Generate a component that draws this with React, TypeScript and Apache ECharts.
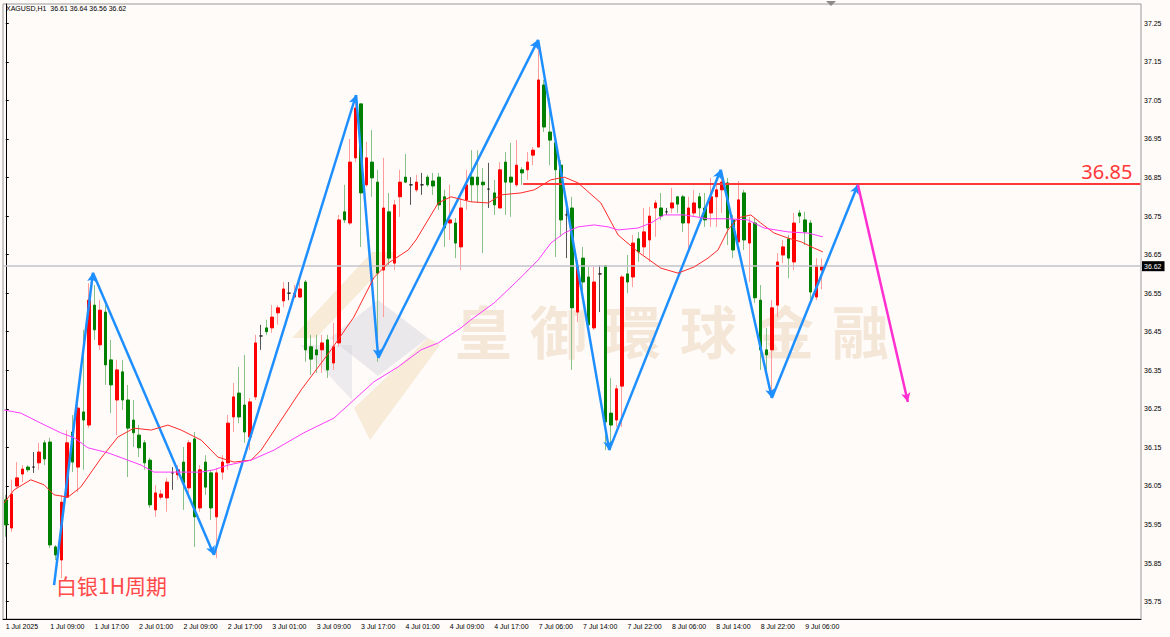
import React, { useEffect, useRef } from "react";
import * as echarts from "echarts";

// ---- data (XAGUSD H1) ----
const xTickLabels = [
  "1 Jul 2025", "1 Jul 09:00", "1 Jul 17:00", "2 Jul 01:00", "2 Jul 09:00", "2 Jul 17:00",
  "3 Jul 01:00", "3 Jul 09:00", "3 Jul 17:00", "4 Jul 01:00", "4 Jul 09:00", "4 Jul 17:00",
  "7 Jul 06:00", "7 Jul 14:00", "7 Jul 22:00", "8 Jul 06:00", "8 Jul 14:00", "8 Jul 22:00", "9 Jul 06:00",
];
const yTickValues = [35.75, 35.85, 35.95, 36.05, 36.15, 36.25, 36.35, 36.45, 36.55, 36.65, 36.75, 36.85, 36.95, 37.05, 37.15, 37.25];

const opens = [
  36.014, 35.941, 36.05, 36.081, 36.099, 36.099, 36.11, 36.162, 36.164, 35.892,
  35.858, 36.021, 36.19, 36.099, 36.242, 36.208, 36.519, 36.416, 36.501, 36.377,
  36.273, 36.346, 36.273, 36.221, 36.182, 36.162, 36.117, 35.988, 36.021, 36.019,
  36.084, 36.079, 36.112, 36.045, 36.172, 35.993, 36.112, 36.084, 35.97, 36.086,
  36.11, 36.229, 36.291, 36.26, 36.177, 36.281, 36.439, 36.46, 36.46, 36.499,
  36.53, 36.55, 36.54, 36.54, 36.579, 36.411, 36.403, 36.403, 36.429, 36.369,
  36.421, 36.761, 36.732, 36.901, 37.041, 36.831, 36.89, 36.838, 36.61, 36.761,
  36.628, 36.8, 36.851, 36.831, 36.818, 36.831, 36.851, 36.841, 36.851, 36.8,
  36.732, 36.732, 36.67, 36.792, 36.851, 36.851, 36.838, 36.82, 36.81, 36.771,
  36.89, 36.851, 36.831, 36.87, 36.87, 36.908, 36.929, 37.09, 36.968, 36.94,
  36.882, 36.753, 36.771, 36.501, 36.641, 36.592, 36.46, 36.6, 36.621, 36.239,
  36.221, 36.309, 36.6, 36.592, 36.691, 36.67, 36.688, 36.771, 36.771, 36.761,
  36.771, 36.8, 36.8, 36.732, 36.758, 36.8, 36.771, 36.758, 36.8, 36.818,
  36.836, 36.74, 36.683, 36.81, 36.68, 36.732, 36.532, 36.403, 36.403, 36.519,
  36.649, 36.691, 36.631, 36.758, 36.74, 36.732, 36.54, 36.61,
];
const closes = [
  35.949, 36.029, 36.071, 36.094, 36.092, 36.099, 36.138, 36.12, 35.897, 35.871,
  36.008, 36.162, 36.112, 36.252, 36.221, 36.532, 36.455, 36.506, 36.364, 36.312,
  36.351, 36.273, 36.2, 36.188, 36.149, 36.11, 36.001, 36.032, 36.029, 36.06,
  36.084, 36.092, 36.058, 36.162, 35.97, 36.092, 36.047, 35.993, 36.084, 36.112,
  36.213, 36.281, 36.229, 36.19, 36.268, 36.421, 36.439, 36.45, 36.488, 36.512,
  36.561, 36.55, 36.55, 36.561, 36.403, 36.379, 36.39, 36.421, 36.351, 36.411,
  36.74, 36.74, 36.89, 37.03, 36.81, 36.901, 36.849, 36.602, 36.771, 36.641,
  36.779, 36.838, 36.838, 36.831, 36.838, 36.831, 36.831, 36.828, 36.779, 36.719,
  36.74, 36.68, 36.771, 36.831, 36.831, 36.831, 36.831, 36.82, 36.779, 36.87,
  36.838, 36.838, 36.882, 36.862, 36.89, 36.921, 37.103, 36.981, 36.947, 36.87,
  36.74, 36.753, 36.512, 36.621, 36.579, 36.468, 36.579, 36.6, 36.216, 36.208,
  36.302, 36.592, 36.579, 36.68, 36.657, 36.709, 36.75, 36.784, 36.75, 36.761,
  36.784, 36.781, 36.732, 36.771, 36.784, 36.771, 36.74, 36.8, 36.818, 36.838,
  36.719, 36.662, 36.792, 36.688, 36.732, 36.538, 36.403, 36.39, 36.512, 36.631,
  36.67, 36.641, 36.732, 36.75, 36.709, 36.553, 36.621, 36.62,
];
const highs = [
  36.027, 36.066, 36.112, 36.104, 36.104, 36.138, 36.162, 36.169, 36.175, 35.897,
  36.027, 36.195, 36.234, 36.286, 36.455, 36.576, 36.571, 36.532, 36.519, 36.429,
  36.377, 36.377, 36.312, 36.273, 36.208, 36.169, 36.123, 36.052, 36.04, 36.071,
  36.099, 36.104, 36.151, 36.169, 36.19, 36.104, 36.13, 36.092, 36.097, 36.13,
  36.234, 36.317, 36.359, 36.39, 36.278, 36.442, 36.468, 36.481, 36.519, 36.519,
  36.579, 36.579, 36.571, 36.579, 36.584, 36.442, 36.442, 36.442, 36.442, 36.473,
  36.753, 36.831, 36.95, 37.06, 37.041, 36.942, 36.973, 36.87, 36.901, 36.81,
  36.792, 36.87, 36.911, 36.851, 36.857, 36.862, 36.857, 36.862, 36.862, 36.818,
  36.831, 36.745, 36.797, 36.87, 36.921, 36.921, 36.875, 36.888, 36.844, 36.89,
  36.916, 36.94, 36.947, 36.877, 36.916, 36.929, 37.207, 37.103, 37.056, 36.947,
  36.895, 36.771, 36.8, 36.636, 36.67, 36.618, 36.618, 36.623, 36.623, 36.33,
  36.312, 36.597, 36.649, 36.701, 36.709, 36.771, 36.774, 36.792, 36.81, 36.771,
  36.823, 36.8, 36.805, 36.8, 36.818, 36.81, 36.81, 36.849, 36.849, 36.87,
  36.849, 36.753, 36.841, 36.818, 36.748, 36.745, 36.571, 36.46, 36.532, 36.654,
  36.688, 36.701, 36.758, 36.766, 36.761, 36.74, 36.641, 36.64,
];
const lows = [
  35.918, 35.931, 36.045, 36.06, 36.086, 36.084, 36.092, 36.104, 35.889, 35.858,
  35.811, 36.019, 36.086, 36.034, 36.092, 36.2, 36.429, 36.403, 36.312, 36.239,
  36.182, 36.247, 36.073, 36.151, 36.125, 36.092, 35.993, 35.97, 36.014, 35.983,
  36.04, 36.066, 35.988, 36.027, 35.892, 35.983, 36.027, 35.962, 35.863, 36.066,
  36.092, 36.19, 36.213, 36.162, 36.143, 36.273, 36.403, 36.442, 36.447, 36.468,
  36.514, 36.532, 36.538, 36.538, 36.372, 36.338, 36.343, 36.343, 36.33, 36.351,
  36.411, 36.732, 36.727, 36.89, 36.67, 36.826, 36.8, 36.372, 36.488, 36.623,
  36.61, 36.748, 36.836, 36.779, 36.812, 36.805, 36.826, 36.805, 36.766, 36.67,
  36.688, 36.641, 36.61, 36.766, 36.787, 36.784, 36.654, 36.771, 36.753, 36.771,
  36.753, 36.748, 36.826, 36.831, 36.844, 36.882, 36.929, 36.968, 36.882, 36.644,
  36.696, 36.641, 36.351, 36.475, 36.532, 36.455, 36.455, 36.501, 36.143, 36.143,
  36.203, 36.203, 36.55, 36.566, 36.631, 36.649, 36.631, 36.696, 36.74, 36.753,
  36.758, 36.758, 36.709, 36.654, 36.748, 36.745, 36.722, 36.722, 36.722, 36.758,
  36.675, 36.641, 36.68, 36.662, 36.579, 36.525, 36.351, 36.343, 36.278, 36.488,
  36.628, 36.589, 36.61, 36.732, 36.675, 36.532, 36.532, 36.56,
];

// moving averages: [bar index, price]
const maFast = [
  [-0.3, 36.006], [1.5, 36.04], [4.5, 36.066], [6.9, 36.053], [8.7, 36.027], [11.2, 36.021],
  [13.5, 36.047], [17.2, 36.123], [20.2, 36.177], [23.1, 36.2], [26.2, 36.195], [29.2, 36.208],
  [31.6, 36.195], [35.2, 36.169], [38.2, 36.125], [41.1, 36.112], [44.2, 36.117], [46.0, 36.143],
  [53.2, 36.299], [58.6, 36.403], [62.7, 36.488], [66.3, 36.59], [68.9, 36.628], [72.5, 36.662],
  [73.9, 36.688], [77.9, 36.784], [80.2, 36.8], [83.8, 36.787], [86.9, 36.784], [89.2, 36.805],
  [92.8, 36.81], [95.2, 36.818], [98.2, 36.844], [100.6, 36.851], [103.1, 36.836], [107.2, 36.784],
  [110.3, 36.701], [113.9, 36.657], [118.0, 36.615], [121.1, 36.602], [124.0, 36.618], [126.5, 36.641],
  [128.3, 36.662], [130.1, 36.714], [131.9, 36.745], [134.2, 36.753], [136.0, 36.732], [138.4, 36.706],
  [140.9, 36.693], [143.3, 36.683], [145.6, 36.667], [147.2, 36.657],
];
const maSlow = [
  [-0.3, 36.247], [2.7, 36.239], [6.3, 36.213], [9.9, 36.188], [12.3, 36.175], [14.8, 36.149],
  [18.4, 36.136], [22.0, 36.117], [24.4, 36.104], [26.7, 36.086], [30.3, 36.086], [35.2, 36.086],
  [37.5, 36.092], [40.0, 36.104], [44.2, 36.117], [48.3, 36.143], [53.7, 36.188], [59.1, 36.226],
  [62.7, 36.273], [66.3, 36.32], [70.7, 36.359], [74.8, 36.403], [77.9, 36.421], [82.0, 36.46],
  [83.8, 36.481], [88.0, 36.525], [92.3, 36.584], [95.9, 36.636], [98.2, 36.68], [100.6, 36.706],
  [103.1, 36.722], [106.0, 36.727], [108.5, 36.722], [110.3, 36.714], [113.9, 36.719], [116.2, 36.732],
  [118.6, 36.753], [122.2, 36.753], [126.5, 36.743], [130.1, 36.743], [133.7, 36.74], [136.6, 36.719],
  [140.9, 36.709], [144.5, 36.706], [147.2, 36.696],
];

// wave annotation: [bar index, price]
const zigzag = [
  [8.7, 35.793], [15.7, 36.603], [37.5, 35.871], [63.1, 37.064], [67.1, 36.382],
  [95.9, 37.207], [108.7, 36.143], [128.8, 36.87], [138.0, 36.278], [153.5, 36.831],
];
const projection = [[153.5, 36.831], [162.5, 36.268]];
const resistance = { from: 93.2, to: 204.4, price: 36.834, label: "36.85" };
const lastPrice = 36.62;
const headerText = "XAGUSD,H1  36.61 36.64 36.56 36.62";
const titleText = "白银1H周期";
const watermarkChars = ["皇", "御", "環", "球", "金", "融"];

const SLOTS = 205;
const UP = "#ff0000";
const DOWN = "#008000";
const BG = "#fffbf9";

export default function App() {
  const ref = useRef<HTMLDivElement>(null);
  useEffect(() => {
    if (!ref.current) return;
    const chart = echarts.init(ref.current, undefined, { renderer: "svg" });
    const categories = Array.from({ length: SLOTS }, (_, i) =>
      i % 8 === 0 && i / 8 < xTickLabels.length ? xTickLabels[i / 8] : ""
    );
    const isDoji = (i: number) => opens[i] === closes[i];
    const wickData = opens.map((o, i) => {
      const v = [o, closes[i], lows[i], highs[i]];
      return isDoji(i)
        ? { value: v, itemStyle: { color: "#555", color0: "#555", borderColor: "#555", borderColor0: "#555" } }
        : v;
    });
    const bodyData = opens.map((o, i) => {
      const c = closes[i];
      const v = [o, c, Math.min(o, c), Math.max(o, c)];
      return isDoji(i)
        ? { value: v, itemStyle: { color: "#222", color0: "#222", borderColor: "#222", borderColor0: "#222" } }
        : v;
    });
    const segs = [] as any[];
    for (let k = 0; k < zigzag.length - 1; k++) {
      segs.push([{ coord: zigzag[k] }, { coord: zigzag[k + 1] }]);
    }
    const font = "Liberation Sans";
    const tickShow = (i: number) => i % 8 === 0 && i / 8 < xTickLabels.length;

    const logo = [
      { type: "polygon", z: 1, shape: { points: [[292, 338], [372, 252], [398, 252], [316, 338]] }, style: { fill: "rgba(240,214,176,0.45)" } },
      { type: "polygon", z: 1, shape: { points: [[378, 300], [428, 338], [378, 376], [330, 338]] }, style: { fill: "rgba(205,205,218,0.4)" } },
      { type: "polygon", z: 1, shape: { points: [[354, 408], [428, 338], [440, 345], [370, 440]] }, style: { fill: "rgba(240,214,176,0.45)" } },
      { type: "polygon", z: 1, shape: { points: [[300, 345], [352, 345], [352, 400]] }, style: { fill: "rgba(205,205,218,0.35)" } },
    ];
    const wmX = [455, 530, 604, 680, 757, 832];
    const watermark = watermarkChars.map((ch, i) => ({
      type: "text", z: 1, x: wmX[i], y: 300,
      style: { text: ch, font: 'bold 57px "Noto Sans CJK TC"', fill: "rgba(236,212,184,0.5)" },
    }));

    chart.setOption({
      animation: false,
      backgroundColor: BG,
      grid: { left: 3, right: 29, top: 4, bottom: 18, show: true, borderColor: "#9a9a9a", borderWidth: 1, backgroundColor: BG },
      xAxis: [
        {
          type: "category", data: categories, boundaryGap: true,
          axisLine: { lineStyle: { color: "#000", width: 1 } },
          axisTick: { interval: (i: number) => tickShow(i), alignWithLabel: true, length: 3, lineStyle: { color: "#000" } },
          axisLabel: { interval: (i: number) => tickShow(i), align: "left", margin: 4, fontSize: 7, color: "#000", fontFamily: font },
          splitLine: { show: false },
        },
        { type: "value", min: -0.5, max: SLOTS - 0.5, show: false },
      ],
      yAxis: {
        type: "value", position: "right", min: 35.705, max: 37.3, scale: true,
        axisLine: { show: true, lineStyle: { color: "#000", width: 1 } },
        axisTick: { show: true, length: 3, customValues: yTickValues, lineStyle: { color: "#000" } },
        axisLabel: { customValues: yTickValues, formatter: (v: number) => v.toFixed(2), fontSize: 7, color: "#000", fontFamily: font, margin: 3 },
        splitLine: { show: false },
      },
      graphic: [
        ...logo,
        ...watermark,
        { type: "text", z: 10, x: 6, y: 5, style: { text: headerText, font: `7px "${font}"`, fill: "#000" } },
        { type: "text", z: 10, x: 56, y: 574, style: { text: titleText, font: '21px "Noto Sans CJK SC"', fill: "#ff4a4a" } },
        { type: "polygon", z: 10, shape: { points: [[826, 1], [836, 1], [831, 6]] }, style: { fill: "#8a8a8a" } },
      ],
      series: [
        {
          type: "candlestick", name: "wick", xAxisIndex: 0, data: wickData, barWidth: 1, z: 3,
          itemStyle: { color: "#ff9c9c", color0: "#88c088", borderColor: "#ff9c9c", borderColor0: "#88c088", borderWidth: 1 },
        },
        {
          type: "candlestick", name: "body", xAxisIndex: 0, data: bodyData, barWidth: 3, z: 4,
          itemStyle: { color: UP, color0: DOWN, borderColor: UP, borderColor0: DOWN, borderWidth: 1 },
        },
        {
          type: "line", name: "MA fast", xAxisIndex: 1, data: maFast, showSymbol: false, z: 5,
          lineStyle: { color: "#ff2a2a", width: 1 },
        },
        {
          type: "line", name: "MA slow", xAxisIndex: 1, data: maSlow, showSymbol: false, z: 5,
          lineStyle: { color: "#ff3cff", width: 1 },
          markLine: {
            silent: true, symbol: ["none", "none"],
            data: [
              {
                yAxis: lastPrice,
                lineStyle: { color: "#c3c3cb", width: 1.5, type: "solid" },
                label: { show: true, position: "end", formatter: lastPrice.toFixed(2), distance: 1, color: "#fff", backgroundColor: "#000", fontSize: 7, padding: [2, 3, 1, 2], fontFamily: font },
              },
              [
                { coord: [resistance.from, resistance.price] },
                { coord: [resistance.to, resistance.price] },
              ],
            ],
            lineStyle: { color: "#ff3838", width: 2, type: "solid" },
            label: { show: true, position: "insideEndTop", formatter: resistance.label, color: "#ff3838", fontSize: 20, fontFamily: "Noto Sans", distance: [8, 2] },
          },
        },
        {
          type: "line", name: "wave", xAxisIndex: 1, data: [], z: 6,
          markLine: {
            silent: true, symbol: ["none", "arrow"], symbolSize: [7, 9],
            lineStyle: { color: "#1e8fff", width: 2.5, type: "solid" },
            label: { show: false }, data: segs,
          },
        },
        {
          type: "line", name: "projection", xAxisIndex: 1, data: [], z: 6,
          markLine: {
            silent: true, symbol: ["none", "arrow"], symbolSize: [7, 9],
            lineStyle: { color: "#ff2fd0", width: 2.5, type: "solid" },
            label: { show: false }, data: [[{ coord: projection[0] }, { coord: projection[1] }]],
          },
        },
      ],
    });
    return () => chart.dispose();
  }, []);
  return <div ref={ref} style={{ position: "fixed", left: 0, top: 0, width: 1170, height: 637 }} />;
}
